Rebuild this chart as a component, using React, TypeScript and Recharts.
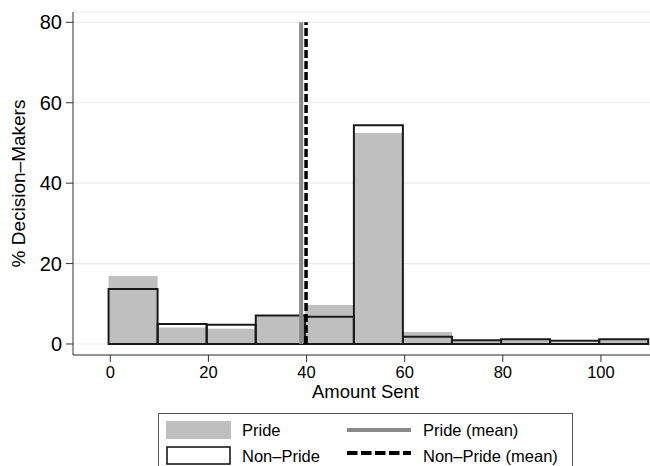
import React from 'react';
import { ComposedChart, Bar, XAxis, YAxis, CartesianGrid, ReferenceLine, Label } from 'recharts';

// Histogram bin centers (bins of width 10)
const binCenters = [4.65, 14.65, 24.65, 34.65, 44.65, 54.65, 64.65, 74.65, 84.65, 94.65, 104.65];
const prideValues = [16.9, 4.1, 3.8, 7.1, 9.7, 52.5, 3.0, 0.8, 1.2, 0.4, 1.2];
const nonPrideValues = [13.7, 5.0, 4.8, 7.1, 6.8, 54.4, 1.8, 0.9, 1.2, 0.8, 1.2];
const xTicks = [0, 20, 40, 60, 80, 100];
const yTicks = [0, 20, 40, 60, 80];
const prideMean = 38.9;
const nonPrideMean = 39.9;
const meanLineTop = 80;

const data = binCenters.map((c, i) => ({ bin: c, pride: prideValues[i], nonPride: nonPrideValues[i] }));

const FONT = '"Liberation Sans", Arial, Helvetica, sans-serif';

const YTitle = (props: any) => {
  const vb = props.viewBox || {};
  const cx = 25;
  const cy = (vb.y ?? 12) + (vb.height ?? 343) / 2;
  return (
    <text x={cx} y={cy} transform={`rotate(-90 ${cx} ${cy})`} textAnchor="middle" fontSize={19} fill="#000" fontFamily={FONT}>
      % Decision–Makers
    </text>
  );
};

export default function App() {
  return (
    <div style={{ position: 'absolute', left: 0, top: 0, width: 650, height: 466, fontFamily: FONT, background: '#fff' }}>
      <ComposedChart
        width={650}
        height={466}
        data={data}
        margin={{ top: 12, right: 0, bottom: 0, left: 0 }}
        barCategoryGap={0}
        barGap={0}
      >
        <CartesianGrid horizontal vertical={false} stroke="#ebebeb" strokeWidth={1.2} />
        <XAxis
          xAxisId={0}
          dataKey="bin"
          type="number"
          domain={[-7.6, 110]}
          allowDataOverflow
          ticks={xTicks}
          height={111}
          tickSize={7}
          tickMargin={4}
          axisLine={{ stroke: '#333' }}
          tickLine={{ stroke: '#333' }}
          tick={{ fill: '#000', fontSize: 16.5, fontFamily: FONT }}
        >
          <Label value="Amount Sent" position="insideTop" offset={30} dx={4} fontSize={18.5} fill="#000" fontFamily={FONT} />
        </XAxis>
        <XAxis xAxisId={1} dataKey="bin" type="number" domain={[-7.6, 110]} allowDataOverflow hide />
        <YAxis
          type="number"
          domain={[-2.74, 82.57]}
          allowDataOverflow
          ticks={yTicks}
          width={73}
          tickSize={7}
          tickMargin={4}
          axisLine={{ stroke: '#333' }}
          tickLine={{ stroke: '#333' }}
          tick={{ fill: '#000', fontSize: 20, fontFamily: FONT }}
        >
          <Label content={<YTitle />} />
        </YAxis>
        <Bar xAxisId={0} dataKey="pride" fill="#bfbfbf" isAnimationActive={false} />
        <Bar xAxisId={1} dataKey="nonPride" fill="none" stroke="#1a1a1a" strokeWidth={2} isAnimationActive={false} />
        <ReferenceLine
          xAxisId={0}
          segment={[{ x: prideMean, y: 0 }, { x: prideMean, y: meanLineTop }]}
          stroke="#8a8a8a"
          strokeWidth={4}
        />
        <ReferenceLine
          xAxisId={0}
          segment={[{ x: nonPrideMean, y: 0 }, { x: nonPrideMean, y: meanLineTop }]}
          stroke="#000"
          strokeWidth={3.5}
          strokeDasharray="8 3"
        />
      </ComposedChart>
      <svg width={650} height={466} style={{ position: 'absolute', left: 0, top: 0, pointerEvents: 'none' }}>
        <rect x={158.5} y={413.5} width={414} height={70} fill="none" stroke="#555" strokeWidth={1} />
        <rect x={166} y={421} width={65} height={18} fill="#bfbfbf" />
        <text x={242} y={436} fontSize={16.5} fill="#000" fontFamily={FONT}>Pride</text>
        <rect x={167} y={447} width={63} height={17} fill="none" stroke="#1a1a1a" strokeWidth={1.6} />
        <text x={242} y={462} fontSize={16.5} fill="#000" fontFamily={FONT}>Non–Pride</text>
        <line x1={347} y1={430} x2={411} y2={430} stroke="#8a8a8a" strokeWidth={4} />
        <text x={423} y={436} fontSize={16.5} fill="#000" fontFamily={FONT}>Pride (mean)</text>
        <line x1={347} y1={453} x2={411} y2={453} stroke="#000" strokeWidth={4} strokeDasharray="10.5 3.5" />
        <text x={423} y={462} fontSize={16.5} fill="#000" fontFamily={FONT}>Non–Pride (mean)</text>
      </svg>
    </div>
  );
}
